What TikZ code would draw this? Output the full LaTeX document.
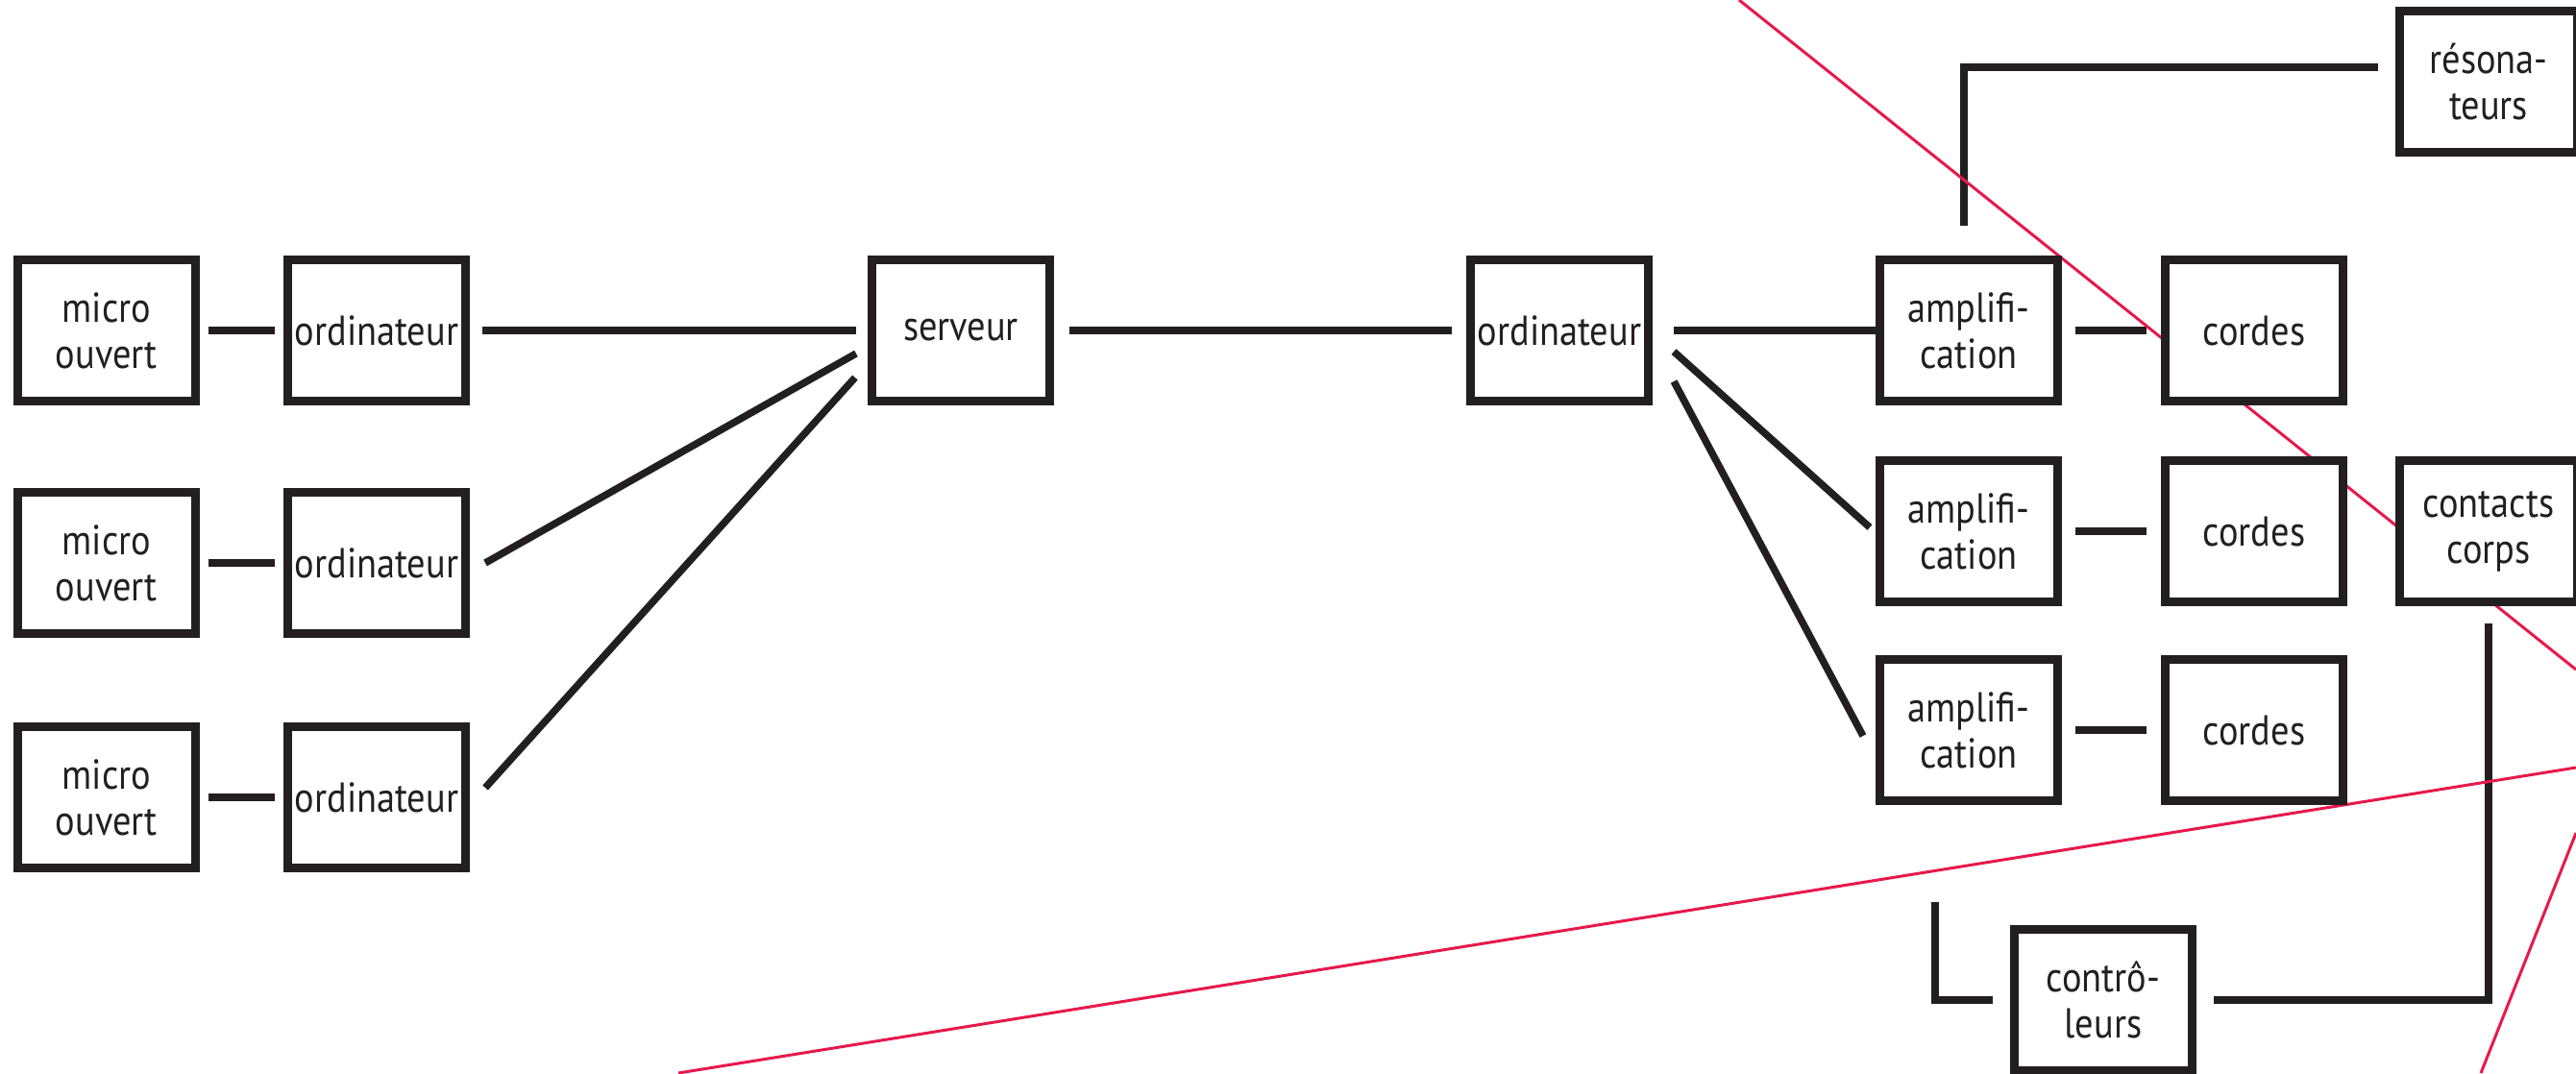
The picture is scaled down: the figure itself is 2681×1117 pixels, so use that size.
\documentclass[tikz,border=0pt]{standalone}
\usepackage{fontspec}
\setmainfont{PT Sans}[FakeStretch=0.88]
\usetikzlibrary{positioning}
\usetikzlibrary{backgrounds}
\definecolor{ink}{RGB}{35,31,32}
\definecolor{cut}{RGB}{230,25,75}
\tikzset{
  box/.style={draw=ink,fill=white,line width=0.09cm,minimum width=1.85cm,
    minimum height=1.47cm,inner sep=0pt,align=center,text=ink,
    font=\fontsize{12.4}{13.6}\selectfont},
  link/.style={draw=ink,line width=0.075cm},
  cutline/.style={draw=cut,line width=0.03cm}
}

\begin{document}
\begin{tikzpicture}[x=0.01cm,y=-0.01cm]
  \useasboundingbox (0,0) rectangle (2681,1117);

  \node[box] (m1) at (111,344) {micro\\ouvert};
  \node[box] (m2) at (111,586) {micro\\ouvert};
  \node[box] (m3) at (111,830) {micro\\ouvert};
  \node[box] (o1) at (392,344) {ordinateur};
  \node[box] (o2) at (392,586) {ordinateur};
  \node[box] (o3) at (392,830) {ordinateur};

  \node[box] (s)  at (1000,344) {serveur};
  \node[box] (o4) at (1623,344) {ordinateur};

  \node[box] (a1) at (2049,344) {amplifi-\\cation};
  \node[box] (a2) at (2049,553) {amplifi-\\cation};
  \node[box] (a3) at (2049,760) {amplifi-\\cation};
  \node[box] (c1) at (2346,344) {cordes};
  \node[box] (c2) at (2346,553) {cordes};
  \node[box] (c3) at (2346,760) {cordes};

  \node[box] (k) at (2590,553) {contacts\\corps};
  \node[box] (r) at (2590,85) {résona-\\teurs};
  \node[box] (u) at (2189,1041) {contrô-\\leurs};

  \coordinate (free) at (2014,939);

  \begin{scope}[on background layer]
    \draw[link,shorten <=0.09cm,shorten >=0.09cm] (m1) -- (o1);
    \draw[link,shorten <=0.09cm,shorten >=0.09cm] (m2) -- (o2);
    \draw[link,shorten <=0.09cm,shorten >=0.09cm] (m3) -- (o3);

    % fan in
    \draw[link] ([xshift=0.13cm]o1.east) -- ([xshift=-0.12cm]s.west);
    \draw[link] ([xshift=0.16cm]o2.east) -- ([xshift=-0.12cm,yshift=-0.24cm]s.west);
    \draw[link] ([xshift=0.16cm,yshift=0.1cm]o3.east) -- ([xshift=-0.13cm,yshift=-0.49cm]s.west);
    \draw[link,shorten <=0.16cm,shorten >=0.15cm] (s) -- (o4);

    % fan out
    \draw[link] ([xshift=0.22cm]o4.east) -- (a1.west);
    \draw[link] ([xshift=0.22cm,yshift=-0.22cm]o4.east) -- ([xshift=-0.06cm,yshift=0.04cm]a2.west);
    \draw[link] ([xshift=0.22cm,yshift=-0.53cm]o4.east) -- ([xshift=-0.13cm,yshift=-0.06cm]a3.west);

    \draw[link,shorten <=0.14cm,shorten >=0.15cm] (a1) -- (c1);
    \draw[link,shorten <=0.14cm,shorten >=0.15cm] (a2) -- (c2);
    \draw[link,shorten <=0.14cm,shorten >=0.15cm] (a3) -- (c3);

    \draw[link] ([xshift=-0.05cm,yshift=0.31cm]a1.north) |- ([xshift=-0.18cm,yshift=0.15cm]r.west);
    \draw[link] ([yshift=-0.18cm]k.south) |- ([xshift=0.18cm]u.east);
    \draw[link] (free) |- ([xshift=-0.18cm]u.west);

    \draw[cutline] (1810,0) -- (2681,697);
    \draw[cutline] (706,1117) -- (2681,799);
    \draw[cutline] (2681,867) -- (2582,1117);
  \end{scope}

\end{tikzpicture}
\end{document}
